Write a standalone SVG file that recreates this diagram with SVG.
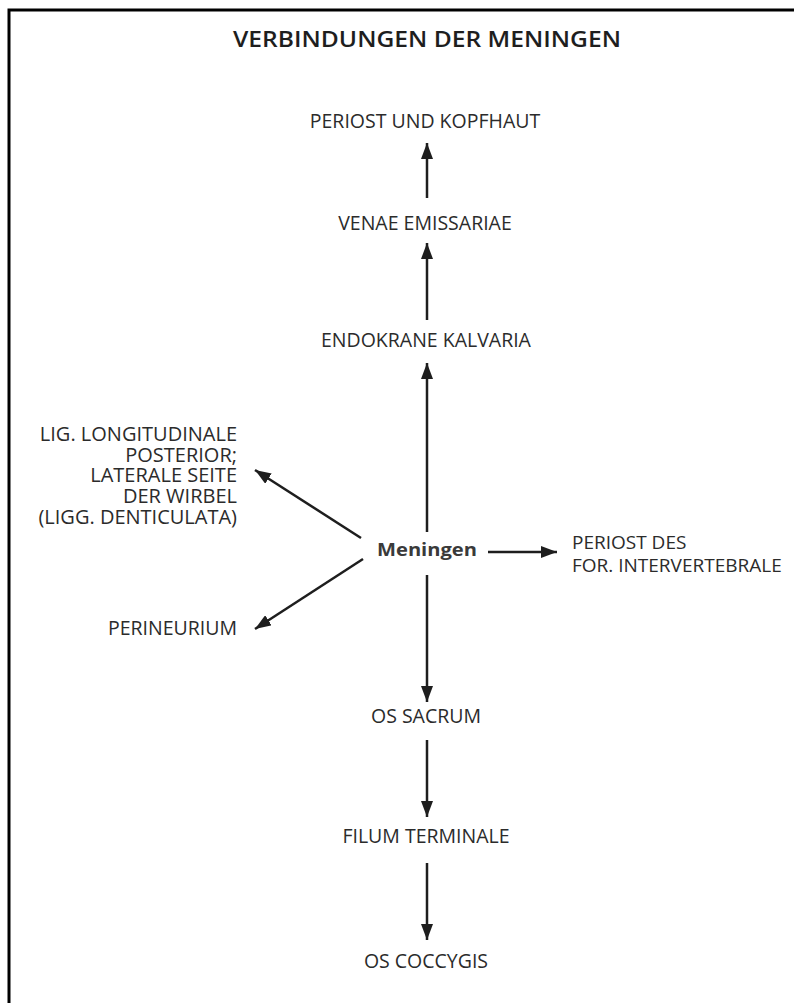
<svg xmlns="http://www.w3.org/2000/svg" width="794" height="1003" viewBox="0 0 794 1003">
  <defs>
    <style>
      .t { font-family: "Open Sans", "Liberation Sans", sans-serif; font-size: 19.5px; font-weight: 500; fill: #2b2b2b; }
      .c { text-anchor: middle; }
      .r { text-anchor: end; }
      .s { font-size: 19px; }
      .l { font-size: 20px; }
      .title { font-family: "Open Sans", "Liberation Sans", sans-serif; font-size: 21px; font-weight: 600; fill: #1e1e1e; text-anchor: middle; }
      .main { font-family: "Open Sans", "Liberation Sans", sans-serif; font-size: 18.5px; font-weight: 700; fill: #3a3a3a; text-anchor: middle; }
      .a { stroke: #1e1e1e; stroke-width: 2.5; fill: none; marker-end: url(#ah); }
      .frame { stroke: #000; stroke-width: 3; fill: none; }
    </style>
    <marker id="ah" markerUnits="userSpaceOnUse" markerWidth="16" markerHeight="12" refX="16" refY="6" orient="auto">
      <path d="M0,0 L16,6 L0,12 z" fill="#1e1e1e"/>
    </marker>
  </defs>
  <rect width="794" height="1003" fill="#ffffff"/>
  <path class="frame" d="M9,1003 L9,10 L794,10"/>

  <g id="title">
    <text class="title" x="427" y="47" textLength="388" lengthAdjust="spacingAndGlyphs">VERBINDUNGEN DER MENINGEN</text>
  </g>

  <g id="connectors">
    <line class="a" x1="427" y1="198" x2="427" y2="143"/>
    <line class="a" x1="427" y1="320" x2="427" y2="243"/>
    <line class="a" x1="427" y1="532" x2="427" y2="363"/>
    <line class="a" x1="427" y1="575" x2="427" y2="702"/>
    <line class="a" x1="427" y1="740" x2="427" y2="817"/>
    <line class="a" x1="427" y1="863" x2="427" y2="940"/>
    <line class="a" x1="488" y1="552" x2="557" y2="552"/>
    <line class="a" x1="361" y1="538" x2="255" y2="470"/>
    <line class="a" x1="363" y1="559" x2="255" y2="629"/>
  </g>

  <g id="meningen">
    <text class="main" x="427" y="556" textLength="100" lengthAdjust="spacingAndGlyphs">Meningen</text>
  </g>
  <g id="periost-kopfhaut">
    <text class="t c" x="425" y="128">PERIOST UND KOPFHAUT</text>
  </g>
  <g id="venae-emissariae">
    <text class="t c" x="425" y="230">VENAE EMISSARIAE</text>
  </g>
  <g id="endokrane-kalvaria">
    <text class="t c" x="426" y="347">ENDOKRANE KALVARIA</text>
  </g>
  <g id="lig-longitudinale">
    <text class="t r l" x="237" y="441">LIG. LONGITUDINALE<tspan x="237" y="462">POSTERIOR;</tspan><tspan x="237" y="482">LATERALE SEITE</tspan><tspan x="237" y="503">DER WIRBEL</tspan><tspan x="237" y="524">(LIGG. DENTICULATA)</tspan></text>
  </g>
  <g id="periost-for">
    <text class="t s" x="572" y="549">PERIOST DES<tspan x="572" y="572">FOR. INTERVERTEBRALE</tspan></text>
  </g>
  <g id="perineurium">
    <text class="t r" x="237" y="635">PERINEURIUM</text>
  </g>
  <g id="os-sacrum">
    <text class="t c" x="426" y="723">OS SACRUM</text>
  </g>
  <g id="filum-terminale">
    <text class="t c" x="426" y="843">FILUM TERMINALE</text>
  </g>
  <g id="os-coccygis">
    <text class="t c" x="426" y="968">OS COCCYGIS</text>
  </g>
</svg>
